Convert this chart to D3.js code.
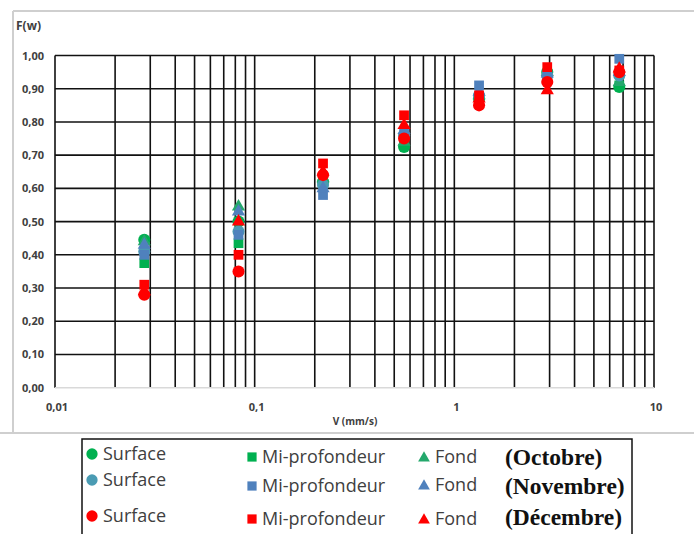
<!DOCTYPE html>
<html>
<head>
<meta charset="utf-8">
<script src="https://cdn.jsdelivr.net/npm/d3@7"></script>
<style>
  body { margin: 0; background: #fff; }
  svg { display: block; }
  .tick-lbl { font-family: "Open Sans", sans-serif; font-weight: bold; font-size: 11px; fill: #404040; }
  .leg { font-family: "Open Sans", sans-serif; font-size: 18px; fill: #404040; }
  .month { font-family: "Liberation Serif", serif; font-weight: bold; font-size: 23.5px; fill: #111; }
</style>
</head>
<body>
<div id="chart"></div>
<script>
// velocities (mm/s) of the 7 size classes
var V = [0.028, 0.083, 0.22, 0.56, 1.33, 2.92, 6.7];

// F(w) values
var octSurface = [0.445, 0.50, 0.62, 0.725, 0.87, 0.95, 0.905];
var octMi      = [0.375, 0.435, 0.615, 0.73, 0.875, 0.945, 0.91];
var octFond    = [0.44, 0.545, 0.63, 0.74, 0.88, 0.95, 0.92];
var novSurface = [0.41, 0.47, 0.61, 0.76, 0.88, 0.94, 0.94];
var novMi      = [0.40, 0.46, 0.58, 0.77, 0.91, 0.94, 0.99];
var novFond    = [0.43, 0.53, 0.60, 0.775, 0.89, 0.945, 0.95];
var decSurface = [0.28, 0.35, 0.64, 0.75, 0.85, 0.92, 0.95];
var decMi      = [0.31, 0.40, 0.675, 0.82, 0.88, 0.965, 0.955];
var decFond    = [0.29, 0.50, 0.65, 0.79, 0.87, 0.895, 0.96];

var yTicks = [0, 0.1, 0.2, 0.3, 0.4, 0.5, 0.6, 0.7, 0.8, 0.9, 1.0];
var xTicks = [0.01, 0.1, 1, 10];
var xTickLabels = ["0,01", "0,1", "1", "10"];
var months = ["(Octobre)", "(Novembre)", "(Décembre)"];

var width = 694, height = 534;

var series = [
  { vals: octSurface, shape: "circle",   color: "#00b050" },
  { vals: octMi,      shape: "square",   color: "#00b050" },
  { vals: octFond,    shape: "triangle", color: "#24a86c" },
  { vals: novSurface, shape: "circle",   color: "#4a9bb3" },
  { vals: novMi,      shape: "square",   color: "#4f81bd" },
  { vals: novFond,    shape: "triangle", color: "#4f81bd" },
  { vals: decSurface, shape: "circle",   color: "#ff0000" },
  { vals: decMi,      shape: "square",   color: "#ff0000" },
  { vals: decFond,    shape: "triangle", color: "#ff0000" }
];

var x = d3.scaleLog().domain([0.01, 10]).range([55, 654]);
var y = d3.scaleLinear().domain([0, 1]).range([387.7, 55.5]);

var svg = d3.select("#chart").append("svg")
    .attr("width", width)
    .attr("height", height);

// outer grey frame
var frame = svg.append("g").attr("stroke", "#cfcfcf").attr("stroke-width", 2).attr("fill", "none");
frame.append("line").attr("x1", 13).attr("x2", width).attr("y1", 11).attr("y2", 11);
frame.append("line").attr("x1", 13).attr("x2", 13).attr("y1", 11).attr("y2", 433);
frame.append("line").attr("x1", 0).attr("x2", width).attr("y1", 433).attr("y2", 433);

// grid: every minor decade value
var minor = [];
[0.01, 0.1, 1].forEach(function(d) {
  for (var i = 1; i < 10; i++) minor.push(d * i);
});
minor.push(10);

var grid = svg.append("g").attr("stroke", "#111").attr("stroke-width", 1.6);
grid.selectAll("line.v")
    .data(minor)
    .enter().append("line")
      .attr("class", "v")
      .attr("x1", function(d) { return x(d); })
      .attr("x2", function(d) { return x(d); })
      .attr("y1", y(1))
      .attr("y2", y(0));
grid.selectAll("line.h")
    .data(yTicks.filter(function(d) { return d > 0; }))
    .enter().append("line")
      .attr("class", "h")
      .attr("x1", x(0.01))
      .attr("x2", x(10))
      .attr("y1", function(d) { return y(d); })
      .attr("y2", function(d) { return y(d); });
svg.append("line")
    .attr("x1", x(0.01)).attr("x2", x(10))
    .attr("y1", y(0)).attr("y2", y(0))
    .attr("stroke", "#d9d9d9").attr("stroke-width", 1.6);

// y tick labels
svg.selectAll("text.ytk")
    .data(yTicks)
    .enter().append("text")
      .attr("class", "tick-lbl")
      .attr("x", 44)
      .attr("y", function(d) { return y(d) + 4; })
      .attr("text-anchor", "end")
      .text(function(d) { return d3.format(".2f")(d).replace(".", ","); });

// x tick labels
svg.selectAll("text.xtk")
    .data(xTicks)
    .enter().append("text")
      .attr("class", "tick-lbl")
      .attr("x", function(d) { return x(d) + 2; })
      .attr("y", 411)
      .attr("text-anchor", "middle")
      .text(function(d, i) { return xTickLabels[i]; });

svg.append("text").attr("class", "tick-lbl")
    .attr("x", 355).attr("y", 425).attr("text-anchor", "middle")
    .style("font-size", "10px")
    .text("V (mm/s)");
svg.append("text").attr("class", "tick-lbl")
    .attr("x", 16).attr("y", 30)
    .style("font-size", "12px")
    .text("F(w)");

// markers
function symbolFor(shape, big) {
  if (shape == "circle") return d3.symbol().type(d3.symbolCircle).size(big ? 115 : 100)();
  if (shape == "square") return d3.symbol().type(d3.symbolSquare).size(big ? 95 : 85)();
  return d3.symbol().type(d3.symbolTriangle).size(big ? 75 : 60)();
}

series.forEach(function(s) {
  svg.append("g").selectAll("path")
      .data(s.vals)
      .enter().append("path")
        .attr("d", symbolFor(s.shape, true))
        .attr("fill", s.color)
        .attr("transform", function(d, i) {
          return "translate(" + x(V[i]) + "," + y(d) + ")";
        });
});

// legend
svg.append("rect")
    .attr("x", 82).attr("y", 439)
    .attr("width", 550).attr("height", 110)
    .attr("fill", "none").attr("stroke", "#111").attr("stroke-width", 1.5);

var legRows = [
  { surf: 454, mid: 457, fond: 457, month: 458 },
  { surf: 480, mid: 486, fond: 485, month: 487 },
  { surf: 516, mid: 519, fond: 519, month: 518 }
];

legRows.forEach(function(r, i) {
  var s0 = series[i * 3], s1 = series[i * 3 + 1], s2 = series[i * 3 + 2];
  svg.append("path").attr("d", symbolFor("circle"))
      .attr("fill", s0.color).attr("transform", "translate(92," + r.surf + ")");
  svg.append("text").attr("class", "leg").attr("x", 103).attr("y", r.surf + 6).text("Surface");
  svg.append("path").attr("d", symbolFor("square"))
      .attr("fill", s1.color).attr("transform", "translate(252," + r.mid + ")");
  svg.append("text").attr("class", "leg").attr("x", 262).attr("y", r.mid + 6).text("Mi-profondeur");
  svg.append("path").attr("d", symbolFor("triangle"))
      .attr("fill", s2.color).attr("transform", "translate(424," + (r.fond + 1) + ")");
  svg.append("text").attr("class", "leg").attr("x", 435).attr("y", r.fond + 6).text("Fond");
  svg.append("text").attr("class", "month").attr("x", 505).attr("y", r.month + 7).text(months[i]);
});
</script>
</body>
</html>
